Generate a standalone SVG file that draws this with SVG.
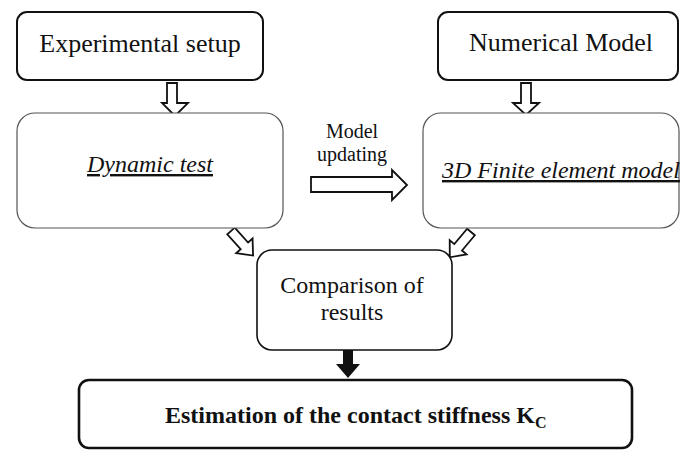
<svg xmlns="http://www.w3.org/2000/svg" width="680" height="450" viewBox="0 0 680 450">
<defs>
<style>
text{font-family:'Liberation Serif','Times New Roman',Times,serif;fill:#111;}
.boxA{fill:#fff;stroke:#111;stroke-width:2;}
.boxB{fill:#fff;stroke:#555;stroke-width:1.2;}
.hollow{fill:#fff;stroke:#111;stroke-width:1.8;stroke-linejoin:miter;}
</style>
<path id="diag" d="M0,-5 L20,-5 L20,-11 L33,0 L20,11 L20,5 L0,5 Z"/>
</defs>
<rect width="680" height="450" fill="#fff"/>

<g id="connectors">
<path class="hollow" d="M167,83 L177,83 L177,103 L188,103 L175,116 L162,103 L167,103 Z"/>
<path class="hollow" d="M521,83 L531,83 L531,103 L539,103 L526,115 L513,103 L521,103 Z"/>
<path class="hollow" d="M311,177 L392,177 L392,170 L407,185 L392,200 L392,192 L311,192 Z"/>
<use href="#diag" class="hollow" transform="translate(231,231) rotate(48)"/>
<use href="#diag" class="hollow" transform="translate(471,232) rotate(130)"/>
<path fill="#111" stroke="none" d="M343,350 L353,350 L353,364 L360,364 L348,378 L336,364 L343,364 Z"/>
</g>

<g id="node-experimental">
<rect class="boxA" x="17" y="12" width="246" height="68" rx="10"/>
<text x="140" y="52" font-family="Liberation Serif, serif" font-size="26" text-anchor="middle">Experimental setup</text>
</g>

<g id="node-numerical">
<rect class="boxA" x="438" y="12" width="240" height="68" rx="10"/>
<text x="561" y="51" font-family="Liberation Serif, serif" font-size="26" text-anchor="middle">Numerical Model</text>
</g>

<g id="node-dynamic">
<rect class="boxB" x="17" y="113" width="266" height="115" rx="18"/>
<text x="150" y="172" font-family="Liberation Serif, serif" font-size="24" font-style="italic" text-anchor="middle" text-decoration="underline">Dynamic test</text>
</g>

<g id="node-label-updating">
<text x="352" y="138" font-family="Liberation Serif, serif" font-size="20" text-anchor="middle">Model</text>
<text x="352" y="161" font-family="Liberation Serif, serif" font-size="20" text-anchor="middle">updating</text>
</g>

<g id="node-fem">
<rect class="boxB" x="423" y="113" width="256" height="115" rx="18"/>
<text x="442" y="178" font-family="Liberation Serif, serif" font-size="24" font-style="italic" text-decoration="underline">3D Finite element model</text>
</g>

<g id="node-comparison">
<rect class="boxA" x="257" y="250" width="195" height="100" rx="15" style="stroke-width:1.6"/>
<text x="352" y="293" font-family="Liberation Serif, serif" font-size="24" text-anchor="middle">Comparison of</text>
<text x="352" y="320" font-family="Liberation Serif, serif" font-size="24" text-anchor="middle">results</text>
</g>

<g id="node-estimation">
<rect class="boxA" x="79" y="380" width="553" height="68" rx="10" style="stroke-width:2.6"/>
<text x="165" y="423" font-family="Liberation Serif, serif" font-size="24" font-weight="bold">Estimation of the contact stiffness K<tspan font-size="16" dy="5">C</tspan></text>
</g>
</svg>
